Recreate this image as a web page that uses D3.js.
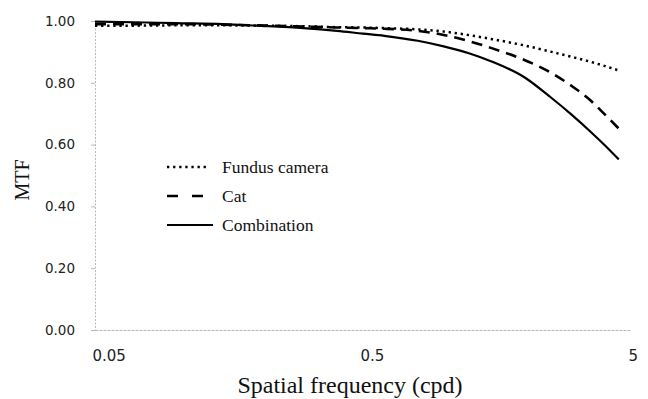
<!DOCTYPE html>
<html>
<head>
<meta charset="utf-8">
<script src="https://cdn.jsdelivr.net/npm/d3@7"></script>
<style>
  html, body { margin: 0; padding: 0; background: #fff; }
  svg { display: block; }
</style>
</head>
<body>
<svg id="chart" width="648" height="399"></svg>
<script>
// Spatial frequency samples (cycles per degree)
const frequency = [0.05, 0.07, 0.1, 0.15, 0.2, 0.3, 0.4, 0.5, 0.6, 0.8, 1.0, 1.25, 1.5, 2.0, 2.5, 3.0, 3.5, 4.0, 4.5];

// MTF of each optical system at those frequencies
const fundusCamera = [0.985, 0.985, 0.986, 0.986, 0.985, 0.983, 0.980, 0.979, 0.977, 0.973, 0.966, 0.954, 0.942, 0.921, 0.901, 0.884, 0.869, 0.854, 0.840];
const cat          = [0.990, 0.990, 0.990, 0.988, 0.986, 0.982, 0.979, 0.977, 0.975, 0.968, 0.955, 0.934, 0.913, 0.874, 0.834, 0.790, 0.746, 0.697, 0.652];
const combination  = [0.998, 0.996, 0.993, 0.990, 0.985, 0.977, 0.968, 0.959, 0.952, 0.936, 0.918, 0.895, 0.870, 0.818, 0.754, 0.697, 0.645, 0.597, 0.552];

const seriesNames = ["Fundus camera", "Cat", "Combination"];
const xTicks = [0.05, 0.5, 5];
const yTicks = [0, 0.2, 0.4, 0.6, 0.8, 1.0];

const svg = d3.select("#chart");

const x = d3.scaleLog().domain([0.05, 5]).range([95, 631]);
const y = d3.scaleLinear().domain([0, 1]).range([330, 21]);

const axisColor = "#b8b8b8";

// y axis: faint dotted rule with short outside ticks
const yAxis = svg.append("g")
  .attr("transform", "translate(95,0)")
  .call(d3.axisLeft(y).tickValues(yTicks).tickFormat(d3.format(".2f")).tickSize(4).tickPadding(16));
yAxis.select(".domain").attr("stroke", axisColor).attr("stroke-dasharray", "2,1.5");
yAxis.selectAll(".tick line").attr("stroke", axisColor);
yAxis.selectAll(".tick text")
  .attr("font-family", "DejaVu Sans, sans-serif")
  .attr("font-size", 13.5)
  .attr("fill", "#222");

// x axis: faint rule, labels set just right of their ticks
const xAxis = svg.append("g")
  .attr("transform", "translate(0,330)")
  .call(d3.axisBottom(x).tickValues(xTicks).tickFormat(d => String(d)).tickSize(0).tickPadding(20));
xAxis.select(".domain").attr("stroke", axisColor).attr("stroke-dasharray", "3,1");
xAxis.selectAll(".tick text")
  .attr("text-anchor", "start")
  .attr("dx", -3)
  .attr("font-family", "DejaVu Sans, sans-serif")
  .attr("font-size", 15)
  .attr("fill", "#222");

// axis titles
svg.append("text")
  .attr("x", 350).attr("y", 393)
  .attr("text-anchor", "middle")
  .attr("font-family", "Liberation Serif, Times New Roman, serif")
  .attr("font-size", 24)
  .attr("fill", "#111")
  .text("Spatial frequency (cpd)");

svg.append("text")
  .attr("transform", "translate(29,180) rotate(-90)")
  .attr("text-anchor", "middle")
  .attr("font-family", "Liberation Serif, Times New Roman, serif")
  .attr("font-size", 20)
  .attr("fill", "#111")
  .text("MTF");

// curves
const styles = [
  { values: fundusCamera, dash: "2.3,3.8", width: 2.5 },
  { values: cat,          dash: "11,7",    width: 2.6 },
  { values: combination,  dash: null,      width: 2.2 }
];

const line = d3.line()
  .x(d => x(d[0]))
  .y(d => y(d[1]))
  .curve(d3.curveMonotoneX);

styles.forEach(s => {
  svg.append("path")
    .datum(frequency.map((f, i) => [f, s.values[i]]))
    .attr("d", line)
    .attr("fill", "none")
    .attr("stroke", "#000")
    .attr("stroke-width", s.width)
    .attr("stroke-dasharray", s.dash);
});

// legend
const legendY = [167, 196, 225];
const legendLen = [41, 37, 46];
const legendDash = ["2.3,3.8", "11,14", null];
const legend = svg.append("g");
seriesNames.forEach((name, i) => {
  legend.append("line")
    .attr("x1", 167).attr("x2", 167 + legendLen[i])
    .attr("y1", legendY[i]).attr("y2", legendY[i])
    .attr("stroke", "#000")
    .attr("stroke-width", styles[i].width)
    .attr("stroke-dasharray", legendDash[i]);
  legend.append("text")
    .attr("x", 222).attr("y", legendY[i])
    .attr("dy", "0.35em")
    .attr("font-family", "Liberation Serif, Times New Roman, serif")
    .attr("font-size", 17.5)
    .attr("fill", "#111")
    .text(name);
});
</script>
</body>
</html>
